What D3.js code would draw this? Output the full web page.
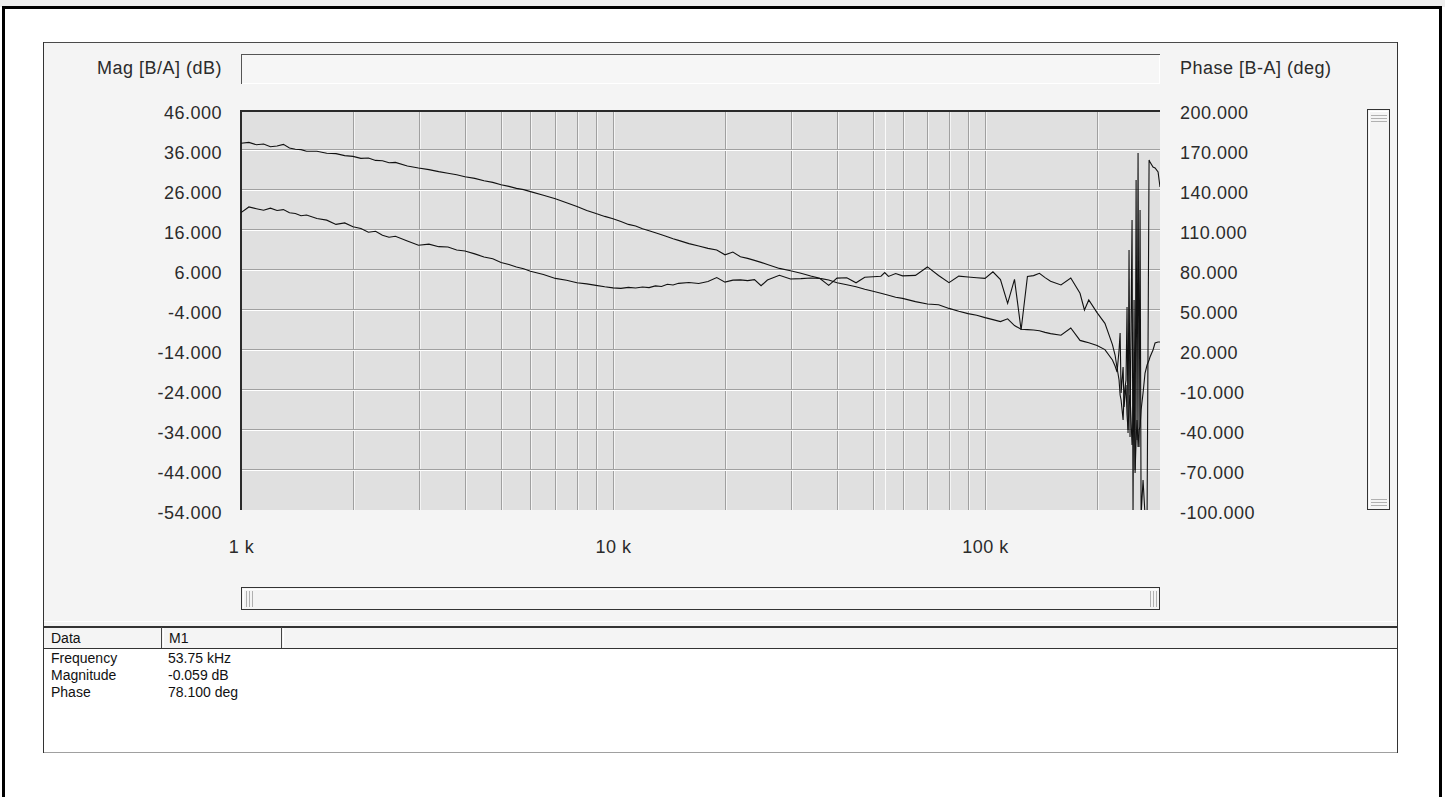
<!DOCTYPE html>
<html>
<head>
<meta charset="utf-8">
<style>
body { margin: 0; background: #fff; }
svg text { font-family: "Liberation Sans", Arial, sans-serif; }
</style>
</head>
<body>
<svg id="chart" width="1445" height="797"></svg>
<script src="https://d3js.org/d3.v7.min.js"></script>
<script>

// frequency points (kHz) shared by both traces
const freqKHz = [
  1.00, 1.05, 1.10, 1.15, 1.20, 1.25, 1.30, 1.35, 1.40, 1.45, 1.50, 1.60, 1.70, 1.80, 1.90,
  2.00, 2.10, 2.20, 2.30, 2.40, 2.50, 2.60, 2.80, 3.00, 3.20, 3.40, 3.60, 3.80,
  4.00, 4.25, 4.50, 4.75, 5.00, 5.25, 5.50, 5.75, 6.00, 6.50, 7.00, 7.50, 8.00, 8.50, 9.00, 9.50,
  10, 10.5, 11, 11.5, 12, 12.5, 13, 13.5, 14, 14.5, 15, 16, 17, 18, 19,
  20, 21, 22, 23, 24, 25, 26, 28, 30, 32, 34, 36, 38,
  40, 42.5, 45, 47.5, 50, 52.5, 53.75, 55, 57.5, 60, 65, 70, 75, 80, 85, 90, 95,
  100, 105, 110, 115, 120, 125, 130, 135, 140, 145, 150, 160, 170, 180, 185, 190,
  200, 210, 220, 223.6, 226.4, 229.2, 230.7, 232.1, 235.0, 236.4, 239.3, 240.8, 242.3,
  243.8, 245.3, 248.4, 249.9, 251.5, 253.1, 254.7, 256.2, 257.8, 259.4, 261.0, 262.7,
  265.9, 269.2, 272.6, 276.0, 277.6, 282.8, 286.4, 291.8, 295.3
];

// Mag [B/A] (dB)
const magDb = [
  37.7, 37.9, 37.3, 37.5, 36.8, 37.0, 37.4, 36.5, 36.2, 36.1, 35.7, 35.7, 35.2, 35.1, 34.6,
  34.4, 33.9, 34.0, 33.4, 33.3, 32.8, 32.9, 32.0, 31.5, 31.1, 30.6, 30.2, 29.8,
  29.3, 28.9, 28.3, 27.9, 27.3, 26.9, 26.4, 26.1, 25.6, 24.7, 23.8, 22.8, 21.9, 20.9, 20.1, 19.4,
  18.8, 18.1, 17.4, 17.0, 16.3, 15.8, 15.3, 14.8, 14.3, 13.8, 13.4, 12.6, 12.0, 11.4, 11.0,
  9.8, 10.5, 9.3, 8.9, 8.4, 7.9, 7.4, 6.4, 5.8, 5.2, 4.5, 3.9, 3.5,
  2.8, 2.3, 1.8, 1.2, 0.7, 0.2, -0.059, -0.3, -0.8, -1.1, -1.9, -2.5, -2.7, -3.6, -4.3, -4.9, -5.3,
  -5.9, -6.4, -6.9, -6.2, -7.9, -8.8, -8.9, -9.0, -9.2, -9.6, -9.9, -10.3, -8.5, -11.6, -11.9, -12.2,
  -12.9, -13.9, -16.5, -18.0, -19.5, -14.0, -9.75, -24.75, -18.25, -28.25, -22.75, -30.25, -34.0,
  -27.75, -25.25, -37.75, -31.5, -19.75, -44.75, -36.5, -31.5, -38.25, -34.0, -33.25, -29.0,
  -24.75, -19.75, -17.75, -16.5, -15.75, -14.0, -12.25, -12.0, -12.0
];

// Phase [B-A] (deg)
const phaseDeg = [
  123.0, 127.3, 126.0, 124.8, 126.4, 124.6, 125.3, 122.9, 122.4, 120.7, 121.2, 118.6, 117.4, 114.2, 115.3,
  112.4, 111.2, 108.3, 109.1, 106.0, 104.6, 105.3, 101.8, 98.6, 99.4, 97.5, 97.2, 95.0,
  94.2, 92.1, 89.8, 88.4, 85.6, 84.1, 82.3, 80.9, 79.0, 76.6, 73.7, 72.3, 70.4, 69.6, 68.5, 67.4,
  66.6, 66.2, 67.0, 66.5, 67.2, 66.8, 68.1, 67.6, 69.3, 68.8, 70.0, 70.6, 69.9, 71.4, 74.3,
  70.9, 72.4, 72.6, 72.0, 72.8, 68.2, 72.5, 76.0, 73.2, 73.5, 74.0, 73.6, 68.5,
  73.9, 74.2, 70.4, 74.6, 74.9, 75.3, 78.1, 75.2, 77.4, 75.6, 76.0, 82.3, 75.9, 70.5, 75.4, 74.8, 74.2,
  73.7, 78.6, 72.8, 55.0, 73.0, 35.0, 75.2, 75.8, 77.5, 74.3, 71.6, 68.8, 74.0, 62.5, 50.0, 57.5,
  48.0, 40.0, 24.0, 16.25, 6.5, -2.5, -13.75, -17.5, -32.5, -13.75, -2.5, 52.25, -42.25,
  95.0, -45.25, 117.5, -104, 57.5, -70, 147.5, -47.5, 167.75, -52.75, 125, -104,
  -77.5, -104, -104, 162.5, 161, 157.25, 156.5, 153.5, 142.25
];

const magTicks = [46, 36, 26, 16, 6, -4, -14, -24, -34, -44, -54];
const phaseTicks = [200, 170, 140, 110, 80, 50, 20, -10, -40, -70, -100];
const freqLabels = [1, 10, 100];

const markerFreq = 53.75;
const tableRows = [
  ["Frequency", "53.75 kHz"],
  ["Magnitude", "-0.059 dB"],
  ["Phase", "78.100 deg"]
];

let svg = d3.select("#chart");
let plot = {left: 241, right: 1160, top: 110, bottom: 510};

// window frame
svg.append("rect").attr("x", 0).attr("y", 0).attr("width", 1445).attr("height", 7).attr("fill", "#eeeeee");
svg.append("rect").attr("x", 3.5).attr("y", 7.5).attr("width", 1437).attr("height", 800)
    .attr("fill", "#fff").attr("stroke", "#000").attr("stroke-width", 3);

// grey panel
let g = svg.append("g").attr("shape-rendering", "crispEdges");
g.append("rect").attr("x", 43.5).attr("y", 42.5).attr("width", 1354).attr("height", 710)
    .attr("fill", "#f4f4f4").attr("stroke", "#4a4a4a");

// title box
g.append("rect").attr("x", 241).attr("y", 54).attr("width", 919).attr("height", 30).attr("fill", "#f6f6f6");
g.append("path").attr("d", "M241.5,84V54.5H1160").attr("fill", "none").attr("stroke", "#555");
g.append("path").attr("d", "M242,83.5H1159.5V55").attr("fill", "none").attr("stroke", "#fff");

// scales
let xScale = d3.scaleLog().domain([1, 295.3]).range([plot.left, plot.right]);
let yMag = d3.scaleLinear().domain([-54, 46]).range([plot.bottom, plot.top]);
let yPhase = d3.scaleLinear().domain([-100, 200]).range([plot.bottom, plot.top]);

// plot area
g.append("rect").attr("x", plot.left).attr("y", plot.top)
    .attr("width", plot.right - plot.left).attr("height", plot.bottom - plot.top)
    .attr("fill", "#e0e0e0");

let xTicks = xScale.ticks().filter(d => d > 1);
g.selectAll(".vgrid").data(xTicks).join("line")
    .attr("class", "vgrid")
    .attr("x1", d => Math.round(xScale(d)) + 0.5).attr("x2", d => Math.round(xScale(d)) + 0.5)
    .attr("y1", plot.top).attr("y2", plot.bottom)
    .attr("stroke", "#a0a0a0");
g.selectAll(".vgridw").data(xTicks).join("line")
    .attr("class", "vgridw")
    .attr("x1", d => Math.round(xScale(d)) + 1.5).attr("x2", d => Math.round(xScale(d)) + 1.5)
    .attr("y1", plot.top).attr("y2", plot.bottom)
    .attr("stroke", "#f4f4f4");

let hTicks = magTicks.slice(1, -1);
g.selectAll(".hgrid").data(hTicks).join("line")
    .attr("class", "hgrid")
    .attr("x1", plot.left).attr("x2", plot.right)
    .attr("y1", d => Math.round(yMag(d)) - 0.5).attr("y2", d => Math.round(yMag(d)) - 0.5)
    .attr("stroke", "#a0a0a0");
g.selectAll(".hgridw").data(hTicks).join("line")
    .attr("class", "hgridw")
    .attr("x1", plot.left).attr("x2", plot.right)
    .attr("y1", d => Math.round(yMag(d)) + 0.5).attr("y2", d => Math.round(yMag(d)) + 0.5)
    .attr("stroke", "#ffffff");

// marker M1
g.append("line")
    .attr("x1", Math.round(xScale(markerFreq)) + 0.5).attr("x2", Math.round(xScale(markerFreq)) + 0.5)
    .attr("y1", plot.top).attr("y2", plot.bottom)
    .attr("stroke", "#fafafa").attr("stroke-width", 1);

// traces
svg.append("clipPath").attr("id", "clip").append("rect")
    .attr("x", plot.left).attr("y", plot.top)
    .attr("width", plot.right - plot.left).attr("height", plot.bottom - plot.top);

let traces = svg.append("g").attr("clip-path", "url(#clip)");
let magLine = d3.line().x((d, i) => xScale(freqKHz[i])).y(d => yMag(d));
let phaseLine = d3.line().x((d, i) => xScale(freqKHz[i])).y(d => yPhase(d));
traces.append("path").datum(magDb).attr("d", magLine)
    .attr("fill", "none").attr("stroke", "#111").attr("stroke-width", 1.1);
traces.append("path").datum(phaseDeg).attr("d", phaseLine)
    .attr("fill", "none").attr("stroke", "#111").attr("stroke-width", 1.1);

// plot border (dark top/left)
g.append("path").attr("d", "M241,510V111H1160").attr("fill", "none").attr("stroke", "#2a2a2a").attr("stroke-width", 2);

// axes
let fmt = d3.formatLocale({decimal: ".", thousands: ",", grouping: [3], currency: ["", ""], minus: "-"}).format(".3f");
function styleAxis(sel) {
    sel.select(".domain").remove();
    sel.selectAll("text")
        .attr("font-family", "Liberation Sans, Arial, sans-serif")
        .attr("font-size", 18)
        .attr("letter-spacing", "0.5px")
        .attr("fill", "#2b2b2b");
}

svg.append("g")
    .attr("transform", "translate(" + plot.left + ",0)")
    .call(d3.axisLeft(yMag).tickValues(magTicks).tickFormat(fmt).tickSize(0).tickPadding(19))
    .call(styleAxis)
    .selectAll("text").attr("dy", "0.45em");

svg.append("g")
    .attr("transform", "translate(" + plot.right + ",0)")
    .call(d3.axisRight(yPhase).tickValues(phaseTicks).tickFormat(fmt).tickSize(0).tickPadding(20))
    .call(styleAxis)
    .selectAll("text").attr("dy", "0.45em");

svg.append("g")
    .attr("transform", "translate(0," + plot.bottom + ")")
    .call(d3.axisBottom(xScale).tickValues(freqLabels).tickFormat(d => d + " k").tickSize(0).tickPadding(30))
    .call(styleAxis);

// axis titles
svg.append("text").attr("x", 222).attr("y", 74).attr("text-anchor", "end")
    .attr("font-size", 18).attr("letter-spacing", "0.5px").attr("fill", "#2b2b2b")
    .text("Mag [B/A] (dB)");
svg.append("text").attr("x", 1180).attr("y", 74)
    .attr("font-size", 18).attr("letter-spacing", "0.5px").attr("fill", "#2b2b2b")
    .text("Phase [B-A] (deg)");

// horizontal scrollbar
g.append("rect").attr("x", 241.5).attr("y", 587.5).attr("width", 918).attr("height", 22)
    .attr("fill", "#f4f4f4").attr("stroke", "#333").attr("stroke-width", 1.5);
g.append("path").attr("d", "M243,608V589.5H1158").attr("fill", "none").attr("stroke", "#fff");
[246, 249, 252, 1150, 1153, 1156].forEach(x => {
    g.append("line").attr("x1", x + 0.5).attr("x2", x + 0.5).attr("y1", 591).attr("y2", 607).attr("stroke", "#b0b0b0");
});

// vertical scrollbar
g.append("rect").attr("x", 1367.5).attr("y", 109.5).attr("width", 22).attr("height", 400)
    .attr("fill", "#f4f4f4").attr("stroke", "#333").attr("stroke-width", 1.5);
g.append("path").attr("d", "M1369.5,508V111.5H1388").attr("fill", "none").attr("stroke", "#fff");
[115, 118, 121, 499, 502, 505].forEach(y => {
    g.append("line").attr("x1", 1371).attr("x2", 1387).attr("y1", y + 0.5).attr("y2", y + 0.5).attr("stroke", "#b0b0b0");
});

// data table
g.append("line").attr("x1", 44).attr("x2", 1397).attr("y1", 621.5).attr("y2", 621.5).attr("stroke", "#fff");
g.append("rect").attr("x", 44).attr("y", 626).attr("width", 1353).attr("height", 22).attr("fill", "#f4f4f4");
g.append("line").attr("x1", 44).attr("x2", 1397).attr("y1", 626.5).attr("y2", 626.5).attr("stroke", "#333").attr("stroke-width", 2);
g.append("rect").attr("x", 44).attr("y", 648).attr("width", 1353).attr("height", 105).attr("fill", "#fff");
g.append("line").attr("x1", 44).attr("x2", 1397).attr("y1", 648.5).attr("y2", 648.5).attr("stroke", "#333");
g.append("line").attr("x1", 44).attr("x2", 1397).attr("y1", 752.5).attr("y2", 752.5).attr("stroke", "#a0a0a0");
g.append("line").attr("x1", 43.5).attr("x2", 43.5).attr("y1", 42).attr("y2", 753).attr("stroke", "#333");
g.append("line").attr("x1", 1397.5).attr("x2", 1397.5).attr("y1", 42).attr("y2", 753).attr("stroke", "#333");
[161, 281].forEach(x => {
    g.append("line").attr("x1", x + 0.5).attr("x2", x + 0.5).attr("y1", 627).attr("y2", 648).attr("stroke", "#444").attr("stroke-width", 1.5);
    g.append("line").attr("x1", x + 2.5).attr("x2", x + 2.5).attr("y1", 628).attr("y2", 647).attr("stroke", "#fff");
});

let tableText = svg.append("g").attr("font-size", 14).attr("fill", "#111");
tableText.append("text").attr("x", 51).attr("y", 643).text("Data");
tableText.append("text").attr("x", 169).attr("y", 643).text("M1");
tableText.selectAll(".rowlabel").data(tableRows).join("text")
    .attr("class", "rowlabel")
    .attr("x", 51).attr("y", (d, i) => 663 + i * 17).text(d => d[0]);
tableText.selectAll(".rowvalue").data(tableRows).join("text")
    .attr("class", "rowvalue")
    .attr("x", 168).attr("y", (d, i) => 663 + i * 17).text(d => d[1]);

</script>
</body>
</html>
